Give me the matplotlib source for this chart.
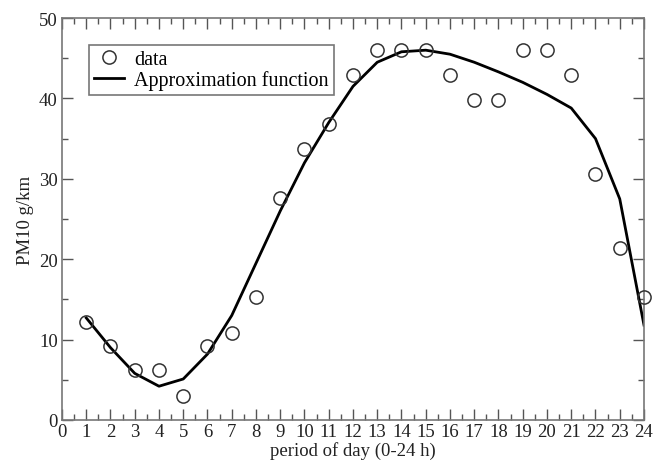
import matplotlib
matplotlib.use('Agg')
import matplotlib.pyplot as plt
from matplotlib.ticker import MultipleLocator
import numpy as np

plt.rcParams['font.family'] = ['Liberation Serif', 'DejaVu Serif']

# hours of the day
hours = np.arange(1, 25)

# measured PM10 values
data = [12.2, 9.2, 6.2, 6.2, 3.0, 9.2, 10.8, 15.3, 27.6, 33.7, 36.8, 42.9,
        46.0, 46.0, 46.0, 42.9, 39.8, 39.8, 46.0, 46.0, 42.9, 30.6, 21.4, 15.3]

# approximation curve
approx = [12.7, 9.0, 5.8, 4.2, 5.1, 8.2, 13.0, 19.5, 26.0, 32.0, 37.0, 41.5,
          44.5, 45.8, 46.0, 45.5, 44.5, 43.3, 42.0, 40.5, 38.8, 35.0, 27.5, 11.8]

fig = plt.figure(figsize=(6.54, 4.64), dpi=100)
ax = fig.add_axes([0.0948, 0.0927, 0.8899, 0.8663])

ax.plot(hours, data, 'o', mfc='none', mec='#333333', ms=9.5, mew=1.1,
        label='data', clip_on=False, zorder=3)
ax.plot(hours, approx, '-', color='black', lw=2, label='Approximation function')

ax.set_xlim(0, 24)
ax.set_ylim(0, 50)
ax.xaxis.set_major_locator(MultipleLocator(1))
ax.xaxis.set_minor_locator(MultipleLocator(0.5))
ax.yaxis.set_major_locator(MultipleLocator(10))
ax.yaxis.set_minor_locator(MultipleLocator(5))
ax.tick_params(which='both', direction='in', top=True, right=True,
               colors='#555555', labelcolor='#222222', labelsize=13.5, pad=2)
ax.tick_params(axis='y', pad=3)
ax.tick_params(which='major', length=8, width=1)
ax.tick_params(which='minor', length=4, width=1)
for s in ax.spines.values():
    s.set_color('#777777')
    s.set_linewidth(1.2)

ax.set_xlabel('period of day (0-24 h)', fontsize=13.5, color='#222222', labelpad=1)
ax.set_ylabel('PM10 g/km', fontsize=13.5, color='#222222', labelpad=4)

leg = ax.legend(loc='upper left', bbox_to_anchor=(0.046, 0.932), fontsize=14.5,
                fancybox=False, framealpha=1, edgecolor='#777777',
                handlelength=1.5, handletextpad=0.5, borderpad=0.25,
                labelspacing=0.05, borderaxespad=0)
leg.get_frame().set_linewidth(1.2)

fig.savefig('out.png', dpi=100)
